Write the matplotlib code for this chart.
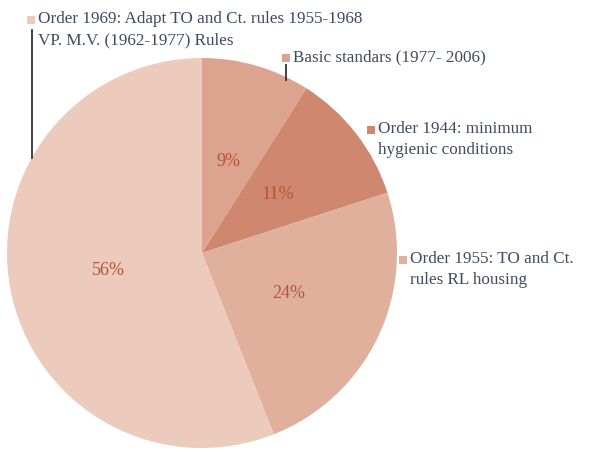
import matplotlib.pyplot as plt

# datos del gráfico
labels = ["Basic standars (1977- 2006)",
          "Order 1944: minimum\nhygienic conditions",
          "Order 1955: TO and Ct.\nrules RL housing",
          "Order 1969: Adapt TO and Ct. rules 1955-1968\nVP. M.V. (1962-1977) Rules"]
values = [9, 11, 24, 56]
colors = ["#DCA48E", "#CF8770", "#E1B09C", "#EDCBBC"]

plt.rcParams['font.family'] = ['Liberation Serif', 'DejaVu Serif']

W, H = 590, 453
fig = plt.figure(figsize=(W / 100, H / 100), dpi=100)
ax = fig.add_axes([0, 0, 1, 1])

wedges, texts, autotexts = ax.pie(
    values, colors=colors, startangle=90, counterclock=False,
    center=(202, H - 253), radius=195, frame=True,
    autopct=lambda p: f"{round(p)}%", pctdistance=0.49,
    textprops=dict(color="#B5533C", fontsize=13),
    wedgeprops=dict(linewidth=0))
ax.set_xlim(0, W)
ax.set_ylim(0, H)
ax.set_aspect('equal')
ax.axis('off')

# leyenda con marcadores
txt_color = "#3E4A5E"
legend_pos = [(286, 58), (371, 130), (403, 260), (31, 20)]
for lab, col, (x, y) in zip(labels, colors, legend_pos):
    ax.add_patch(plt.Rectangle((x - 4, H - y - 4), 8, 8, color=col, lw=0))
    ax.text(x + 7, H - y + 9, lab, color=txt_color, fontsize=12.3,
            va='top', ha='left', linespacing=1.42)

# líneas guía
ax.plot([32, 32], [H - 30, H - 158], color="#333333", lw=1.3)
ax.plot([286, 286], [H - 65, H - 80], color="#333333", lw=1.3)

fig.savefig("out.png", dpi=100)
